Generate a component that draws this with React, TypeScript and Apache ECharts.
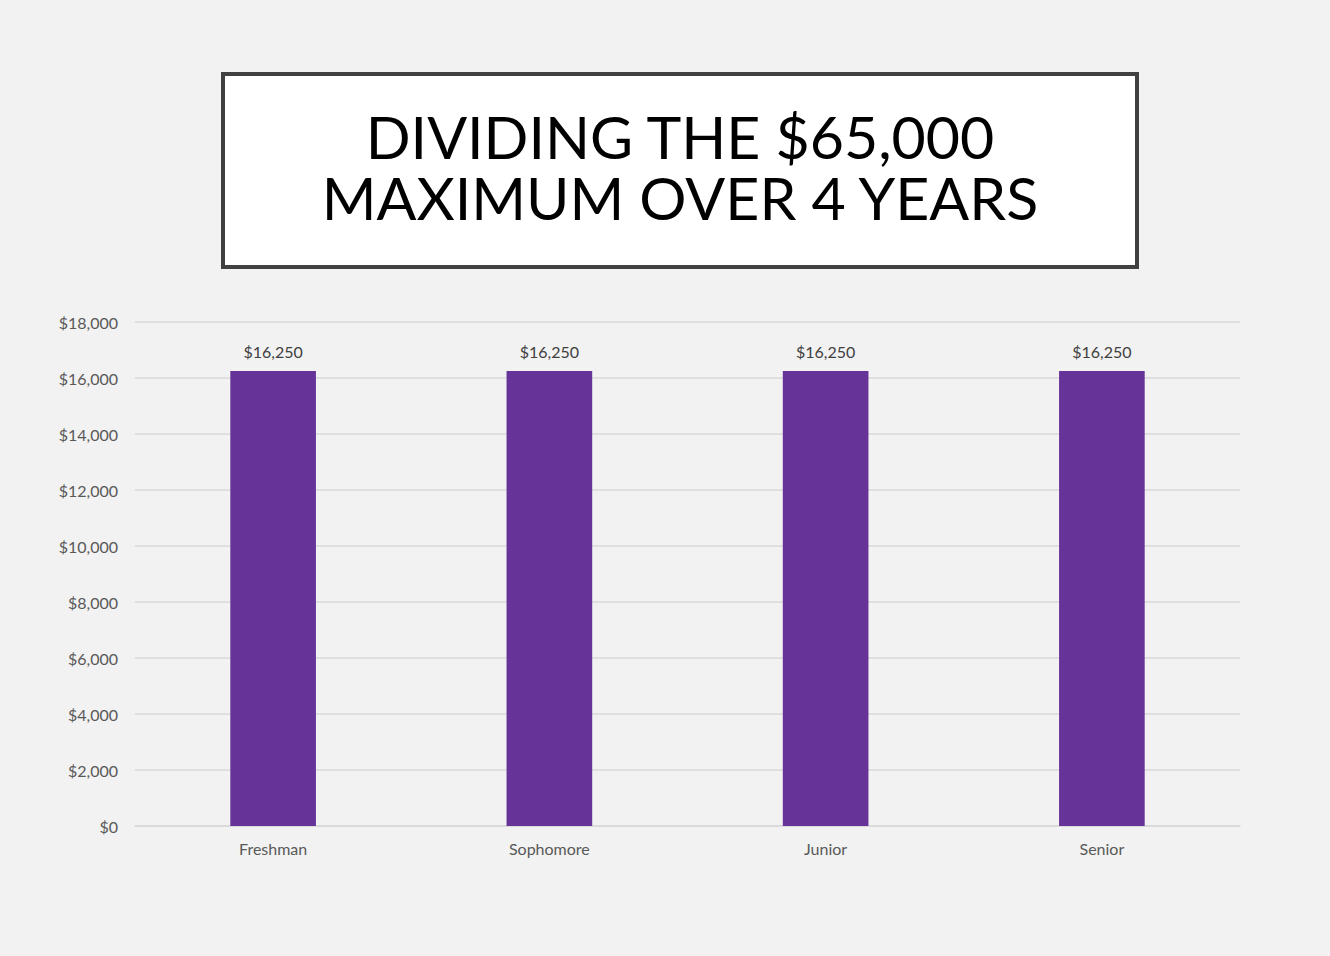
import React, { useEffect, useRef } from "react";
import * as echarts from "echarts";

const categories = ["Freshman", "Sophomore", "Junior", "Senior"];
const values = [16250, 16250, 16250, 16250];
const titleLines = ["DIVIDING THE $65,000", "MAXIMUM OVER 4 YEARS"];
const yMin = 0;
const yMax = 18000;
const yInterval = 2000;

const fmt = (v: number) => "$" + v.toLocaleString("en-US");

export default function App() {
  const ref = useRef<HTMLDivElement>(null);
  useEffect(() => {
    if (!ref.current) return;
    const chart = echarts.init(ref.current, null, { renderer: "svg" });
    chart.setOption({
      animation: false,
      backgroundColor: "#f2f2f2",
      textStyle: { fontFamily: "Lato" },
      grid: { left: 135, right: 90, top: 322, bottom: 130 },
      graphic: [
        {
          type: "rect",
          shape: { x: 223, y: 74, width: 914, height: 193 },
          style: { fill: "#ffffff", stroke: "#404040", lineWidth: 4 },
        },
        {
          type: "text",
          x: 680,
          y: 167,
          style: {
            text: titleLines.join("\n"),
            fontFamily: "Lato",
            fontSize: 59,
            lineHeight: 61,
            fill: "#000000",
            align: "center",
            verticalAlign: "middle",
          },
        },
      ],
      xAxis: {
        type: "category",
        data: categories,
        axisLine: { lineStyle: { color: "#d9d9d9", width: 1.5 } },
        axisTick: { show: false },
        axisLabel: { color: "#595959", fontSize: 16, margin: 14, fontFamily: "Lato" },
      },
      yAxis: {
        type: "value",
        min: yMin,
        max: yMax,
        interval: yInterval,
        axisLine: { show: false },
        axisTick: { show: false },
        splitLine: { lineStyle: { color: "#d9d9d9", width: 1.5 } },
        axisLabel: {
          color: "#595959",
          fontSize: 16,
          margin: 17,
          fontFamily: "Lato",
          formatter: (v: number) => fmt(v),
        },
      },
      series: [
        {
          type: "bar",
          data: values,
          barWidth: "31%",
          itemStyle: { color: "#663399" },
          label: {
            show: true,
            position: "top",
            distance: 12,
            color: "#404040",
            fontSize: 16,
            fontFamily: "Lato",
            formatter: (p: any) => fmt(p.value),
          },
        },
      ],
    });
    return () => chart.dispose();
  }, []);
  return (
    <div
      ref={ref}
      style={{ position: "fixed", left: 0, top: 0, width: 1330, height: 956 }}
    />
  );
}
